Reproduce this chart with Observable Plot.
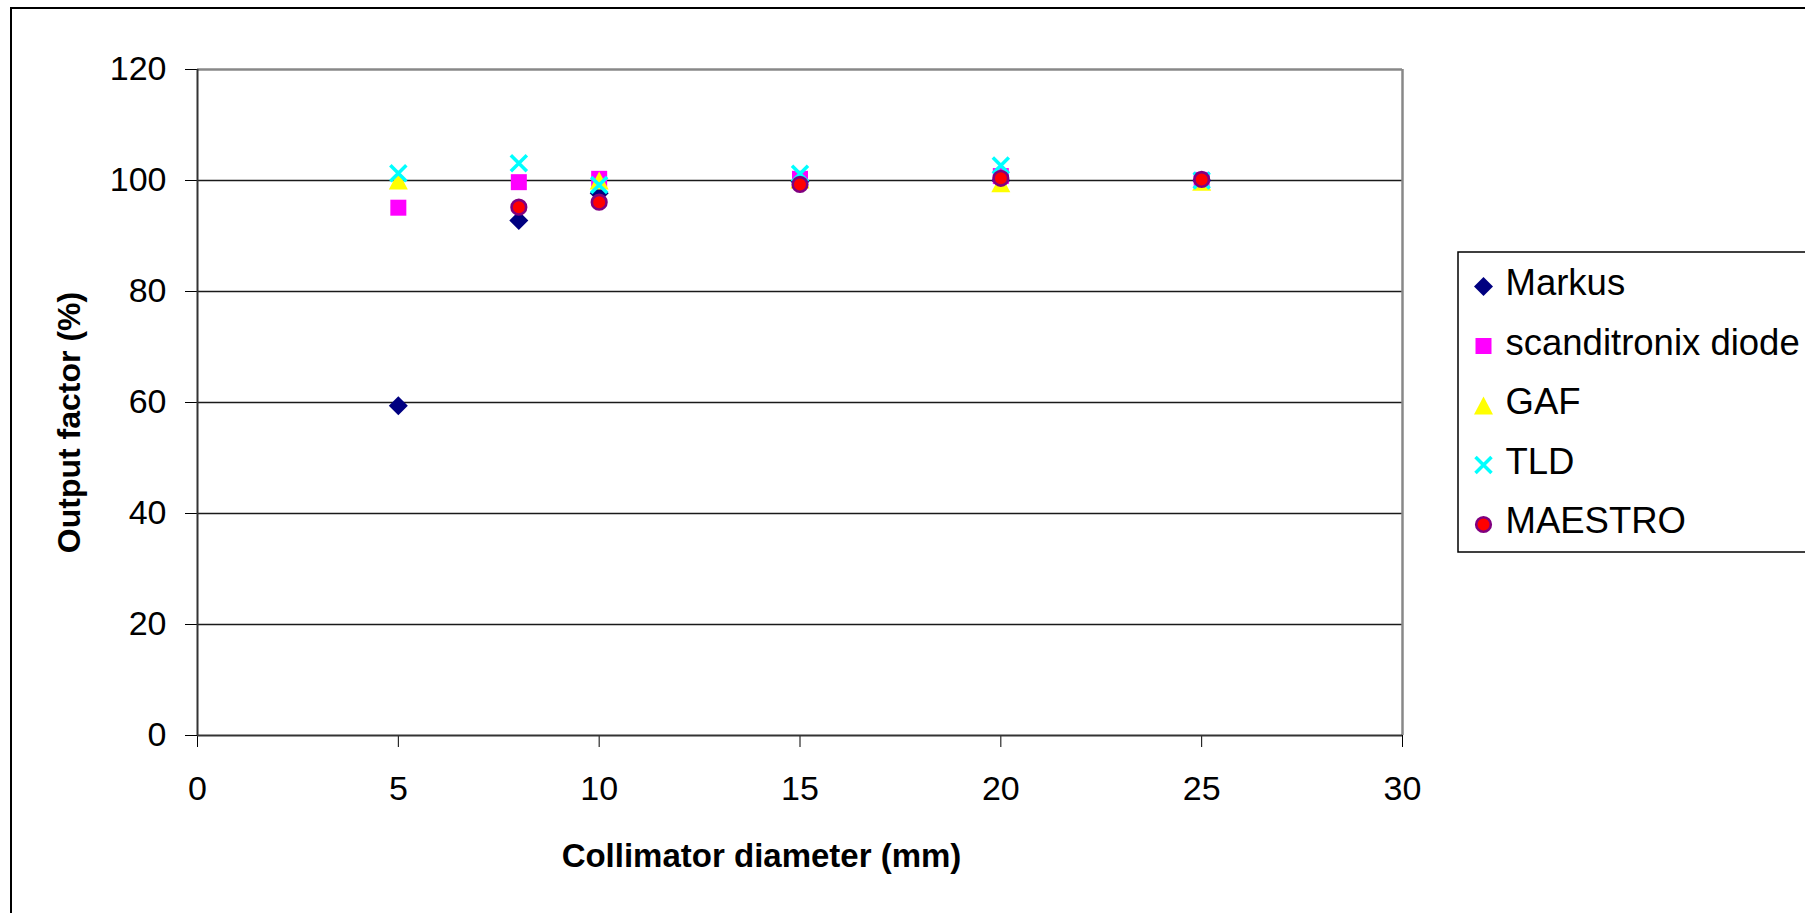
<!DOCTYPE html>
<html>
<head>
<meta charset="utf-8">
<script src="https://cdn.jsdelivr.net/npm/d3@7"></script>
<script src="https://cdn.jsdelivr.net/npm/@observablehq/plot@0.6"></script>
<style>
  body { margin: 0; background: #fff; }
  #chart svg { display: block; }
</style>
</head>
<body>
<div id="chart"></div>
<script>
// Output factor (%) per collimator diameter (mm), one array per detector
const diameters   = [5, 8, 10, 15, 20, 25];
const markus      = [59.4, 92.8, 97.7, 99.8, 100.0, 100.0];
const scanditronix = [95.1, 99.7, 100.3, 100.3, 100.8, 100.1];
const gaf         = [100.0, null, 100.0, 100.2, 99.5, 99.8];
const tld         = [101.3, 103.1, 99.2, 101.2, 102.7, 100.0];
const maestro     = [null, 95.2, 96.1, 99.3, 100.4, 100.2];

const seriesNames = ["Markus", "scanditronix diode", "GAF", "TLD", "MAESTRO"];
const seriesValues = [markus, scanditronix, gaf, tld, maestro];

const xTicks = [0, 5, 10, 15, 20, 25, 30];
const yTicks = [0, 20, 40, 60, 80, 100, 120];
const gridLevels = [20, 40, 60, 80, 100];

// Marker shapes; half-size r is recovered from Plot's size = r²π
const half = size => Math.sqrt(size / Math.PI);
const diamond = {draw(c, s) { const r = half(s); c.moveTo(0, -r); c.lineTo(r, 0); c.lineTo(0, r); c.lineTo(-r, 0); c.closePath(); }};
const square = {draw(c, s) { const r = half(s); c.rect(-r, -r, 2 * r, 2 * r); }};
const triangle = {draw(c, s) { const r = half(s); c.moveTo(0, -0.95 * r); c.lineTo(r, 0.95 * r); c.lineTo(-r, 0.95 * r); c.closePath(); }};
const cross = {draw(c, s) { const r = half(s); c.moveTo(-r, -r); c.lineTo(r, r); c.moveTo(r, -r); c.lineTo(-r, r); }};

const markerStyles = [
  {symbol: diamond, r: 9.5, fill: "#000080", stroke: "none"},
  {symbol: square, r: 8, fill: "#FF00FF", stroke: "none"},
  {symbol: triangle, r: 9.5, fill: "#FFFF00", stroke: "none"},
  {symbol: cross, r: 8, fill: "none", stroke: "#00FFFF", strokeWidth: 3.5},
  {symbol: "circle", r: 7.3, fill: "#FF0000", stroke: "#800080", strokeWidth: 2.6}
];

const rows = seriesNames.map((name, s) =>
  diameters.map((d, i) => ({series: name, diameter: d, value: seriesValues[s][i]}))
);

const font = "'Liberation Sans', Arial, sans-serif";

const chart = Plot.plot({
  width: 1805,
  height: 913,
  marginLeft: 197,
  marginRight: 403,
  marginTop: 69,
  marginBottom: 178,
  style: {fontFamily: font, fontSize: "34px", color: "#000", background: "#fff", overflow: "visible"},
  x: {domain: [0, 30], ticks: xTicks, tickSize: 12, tickPadding: 28, label: null},
  y: {domain: [0, 120], ticks: yTicks, tickSize: 12, tickPadding: 19, label: null},
  marks: [
    Plot.ruleY(gridLevels, {stroke: "#1a1a1a", strokeWidth: 1.4}),
    Plot.ruleY([120], {stroke: "#888", strokeWidth: 2.5}),
    Plot.ruleX([30], {stroke: "#888", strokeWidth: 2.5}),
    Plot.ruleY([0], {stroke: "#333", strokeWidth: 2}),
    Plot.ruleX([0], {stroke: "#333", strokeWidth: 2}),
    ...rows.map((data, s) => Plot.dot(data, {x: "diameter", y: "value", ...markerStyles[s]})),
    // legend entries
    ...seriesNames.map((name, i) => Plot.dot([name], {frameAnchor: "top-right", dx: 81, dy: 217 + i * 59.5, ...markerStyles[i]})),
    ...seriesNames.map((name, i) => Plot.text([name], {
      text: d => d, frameAnchor: "top-right", dx: 103, dy: 214 + i * 59.5,
      textAnchor: "start", lineAnchor: "middle", fontSize: 36.5, fill: "#000"
    })),
    // axis titles
    Plot.text(["Collimator diameter (mm)"], {
      text: d => d, frameAnchor: "bottom", dx: -38.5, dy: 121,
      textAnchor: "middle", lineAnchor: "middle", fontWeight: "bold", fontSize: 33, fill: "#000"
    }),
    Plot.text(["Output factor (%)"], {
      text: d => d, frameAnchor: "left", rotate: -90, dx: -128, dy: 20,
      textAnchor: "middle", lineAnchor: "middle", fontWeight: "bold", fontSize: 32, fill: "#000"
    })
  ]
});

// chart border and legend box
const svg = d3.select(chart);
svg.insert("rect", ":first-child")
  .attr("x", 11).attr("y", 8).attr("width", 2400).attr("height", 2400)
  .attr("fill", "none").attr("stroke", "#000").attr("stroke-width", 2);
svg.append("rect")
  .attr("x", 1458).attr("y", 252).attr("width", 500).attr("height", 300)
  .attr("fill", "none").attr("stroke", "#000").attr("stroke-width", 1.5);

document.getElementById("chart").appendChild(chart);
</script>
</body>
</html>
